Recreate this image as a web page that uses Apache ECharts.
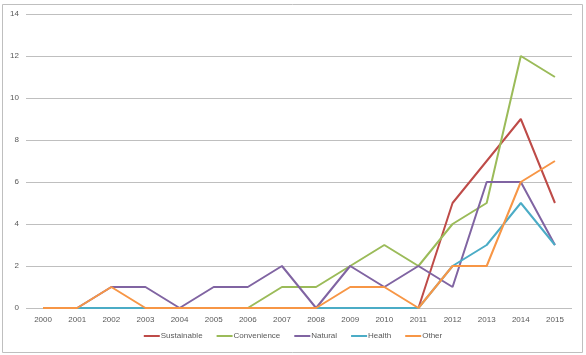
<!DOCTYPE html>
<html><head><meta charset="utf-8">
<script src="https://cdn.jsdelivr.net/npm/echarts@6/dist/echarts.min.js"></script>
<style>html,body{margin:0;padding:0;background:#fff}#c{width:586px;height:355px}</style>
</head><body><div id="c"></div>
<script>
var years = ['2000','2001','2002','2003','2004','2005','2006','2007','2008','2009','2010','2011','2012','2013','2014','2015'];
var sustainable = [0,0,0,0,0,0,0,0,0,0,0,0,5,7,9,5];
var convenience = [0,0,0,0,0,0,0,1,1,2,3,2,4,5,12,11];
var natural = [null,0,1,1,0,1,1,2,0,2,1,2,1,6,6,3];
var health = [null,0,0,0,0,0,0,0,0,0,0,0,2,3,5,3];
var other = [0,0,1,0,0,0,0,0,0,1,1,0,2,2,6,7];
var yTicks = [0,2,4,6,8,10,12,14];

var names = ['Sustainable','Convenience','Natural','Health','Other'];
var colors = ['#BE4B48','#9BBB59','#8064A2','#4BACC6','#F79646'];
var datas = [sustainable, convenience, natural, health, other];

var chart = echarts.init(document.getElementById('c'));
chart.setOption({
  animation: false,
  textStyle: {fontFamily: 'Liberation Sans, Arial, sans-serif'},
  graphic: [{type:'rect', shape:{x:2.5,y:4.5,width:580,height:348}, style:{fill:'none', stroke:'#BFBFBF', lineWidth:1}, silent:true}],
  grid: {left: 26, right: 14, top: 14, bottom: 47},
  legend: {
    bottom: 10, left: 'center',
    itemWidth: 16, itemHeight: 2, itemGap: 14,
    icon: 'rect',
    textStyle: {fontSize: 8, color: '#595959', padding:[0,0,0,-4]},
    data: names
  },
  xAxis: {
    type: 'category', data: years, boundaryGap: true,
    axisLine: {show: false}, axisTick: {show: false},
    axisLabel: {fontSize: 8, color: '#595959', margin: 8}
  },
  yAxis: {
    type: 'value', min: 0, max: 14, interval: 2,
    axisLine: {show: false}, axisTick: {show: false},
    axisLabel: {fontSize: 8, color: '#595959', margin: 7},
    splitLine: {lineStyle: {color: '#BFBFBF', width: 1}}
  },
  series: names.map(function(n,i){
    return {name:n, type:'line', data: datas[i], symbol:'none', connectNulls:false,
      lineStyle:{color:colors[i], width:2}, itemStyle:{color:colors[i]}};
  })
});
</script></body></html>
